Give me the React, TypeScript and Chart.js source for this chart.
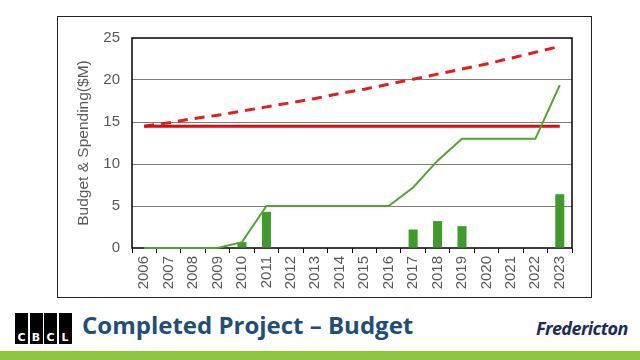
import React, { useEffect, useRef } from "react";
import { Chart, registerables } from "chart.js";

Chart.register(...registerables);

const years = ["2006","2007","2008","2009","2010","2011","2012","2013","2014","2015","2016","2017","2018","2019","2020","2021","2022","2023"];
const annualSpending = [null, null, null, null, 0.7, 4.3, null, null, null, null, null, 2.2, 3.2, 2.6, null, null, null, 6.4];
const cumulativeSpending = [0, 0, 0, 0, 0.7, 5, 5, 5, 5, 5, 5, 7.2, 10.4, 13, 13, 13, 13, 19.4];
const originalBudget = [14.5, 14.5, 14.5, 14.5, 14.5, 14.5, 14.5, 14.5, 14.5, 14.5, 14.5, 14.5, 14.5, 14.5, 14.5, 14.5, 14.5, 14.5];
const inflatedBudget = [14.5, 14.9, 15.4, 15.8, 16.3, 16.8, 17.3, 17.8, 18.4, 18.9, 19.5, 20.1, 20.7, 21.3, 21.9, 22.6, 23.3, 24.0];
const yTicks = [0, 5, 10, 15, 20, 25];

const AXIS_COLOR = "#595959";
const FONT = "'Liberation Sans', Arial, sans-serif";

const framePlugin = {
  id: "frame",
  beforeDatasetsDraw(chart: any) {
    const { ctx, chartArea } = chart;
    ctx.save();
    ctx.strokeStyle = "#000";
    ctx.lineWidth = 1.5;
    ctx.strokeRect(chartArea.left, chartArea.top, chartArea.right - chartArea.left, chartArea.bottom - chartArea.top);
    ctx.restore();
  },
};

function ChartView() {
  const ref = useRef<HTMLCanvasElement | null>(null);
  useEffect(() => {
    if (!ref.current) return;
    const chart = new Chart(ref.current, {
      type: "bar",
      data: {
        labels: years,
        datasets: [
          {
            type: "bar",
            label: "Annual",
            data: annualSpending as any,
            backgroundColor: "#3f9b2a",
            barPercentage: 0.37,
            categoryPercentage: 1,
            order: 4,
          },
          {
            type: "line",
            label: "Inflated budget",
            data: inflatedBudget,
            borderColor: "#e21e1e",
            borderWidth: 3,
            borderDash: [10, 7],
            pointRadius: 0,
            fill: false,
            order: 3,
          },
          {
            type: "line",
            label: "Budget",
            data: originalBudget,
            borderColor: "#e00b0b",
            borderWidth: 3,
            pointRadius: 0,
            fill: false,
            order: 2,
          },
          {
            type: "line",
            label: "Cumulative",
            data: cumulativeSpending,
            borderColor: "#4ea72e",
            borderWidth: 2,
            pointRadius: 0,
            fill: false,
            clip: 4,
            order: 1,
          },
        ] as any,
      },
      options: {
        animation: false,
        responsive: false,
        maintainAspectRatio: false,
        layout: { padding: { left: 16, top: 17, right: 19, bottom: 0 } },
        plugins: { legend: { display: false }, tooltip: { enabled: false } },
        scales: {
          x: {
            offset: true,
            border: { display: false },
            grid: { drawOnChartArea: false, drawTicks: true, tickLength: 5, color: "#000", offset: true },
            ticks: {
              minRotation: 90,
              maxRotation: 90,
              padding: 3,
              color: AXIS_COLOR,
              font: { family: FONT, size: 15 },
              autoSkip: false,
            },
            afterFit(scale: any) {
              scale.height = 49;
            },
          },
          y: {
            min: 0,
            max: 25,
            afterBuildTicks(scale: any) {
              scale.ticks = yTicks.map((v) => ({ value: v }));
            },
            border: { display: false },
            grid: {
              drawTicks: false,
              color: (c: any) => (c.tick && (c.tick.value === 0 || c.tick.value === 25) ? "rgba(0,0,0,0)" : "#7f7f7f"),
              lineWidth: 1,
            },
            ticks: { padding: 12, color: AXIS_COLOR, font: { family: FONT, size: 15 } },
            title: {
              display: true,
              text: "Budget & Spending($M)",
              color: AXIS_COLOR,
              font: { family: FONT, size: 15.5 },
              padding: { top: 0, bottom: 0 },
            },
            afterFit(scale: any) {
              scale.width = 58;
            },
          },
        },
      },
      plugins: [framePlugin],
    });
    return () => chart.destroy();
  }, []);
  return <canvas ref={ref} width={533} height={280} style={{ width: 533, height: 280, display: "block" }} />;
}

const letters = ["C", "B", "C", "L"];

export default function App() {
  return (
    <div style={{ position: "fixed", left: 0, top: 0, width: 640, height: 360, background: "#fff", overflow: "hidden" }}>
      <div style={{ position: "absolute", left: 57, top: 16, width: 533, height: 280, border: "1px solid #222" }}>
        <ChartView />
      </div>
      <div style={{ position: "absolute", left: 15, top: 313, height: 31, display: "flex", gap: 1.5 }}>
        {letters.map((l, i) => (
          <div
            key={i}
            style={{
              width: 13,
              height: 31,
              background: "#000",
              color: "#fff",
              fontFamily: "'DejaVu Sans', sans-serif",
              fontWeight: 700,
              fontSize: 11,
              display: "flex",
              alignItems: "flex-end",
              justifyContent: "center",
              lineHeight: "13px",
            }}
          >
            {l}
          </div>
        ))}
      </div>
      <div
        style={{
          position: "absolute",
          left: 82,
          top: 308,
          fontFamily: "'Open Sans', sans-serif",
          fontWeight: 700,
          fontSize: 24,
          color: "#1f4e79",
          whiteSpace: "nowrap",
          lineHeight: "34px",
        }}
      >
        Completed Project – Budget
      </div>
      <div
        style={{
          position: "absolute",
          left: 536,
          top: 317,
          fontFamily: "'Open Sans', sans-serif",
          fontWeight: 700,
          fontStyle: "italic",
          fontSize: 18,
          color: "#1b2d5c",
          whiteSpace: "nowrap",
          lineHeight: "22px",
          letterSpacing: -0.6,
        }}
      >
        Fredericton
      </div>
      <div style={{ position: "absolute", left: 0, top: 351, width: 640, height: 9, background: "#8cc63f" }} />
    </div>
  );
}
